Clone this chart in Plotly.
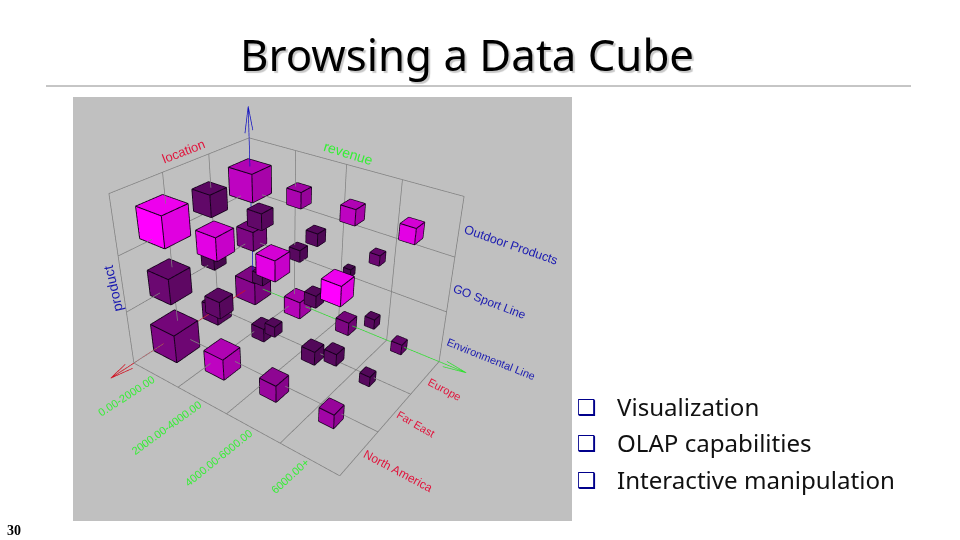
import plotly.graph_objects as go

# ---------- data ----------
revenue_labels = ["0.00-2000.00", "2000.00-4000.00", "4000.00-6000.00", "6000.00+"]
location_labels = ["Europe", "Far East", "North America"]
product_labels = ["Environmental Line", "GO Sport Line", "Outdoor Products"]
bullet_labels = ["Visualization", "OLAP capabilities", "Interactive manipulation"]

# cube edge per [location][revenue], one table per product
size_env = [[.43, .32, .24, .18], [.33, .24, .24, .17], [.50, .37, .29, .24]]
size_go = [[.35, .21, .13, None], [.27, .19, .20, .15], [.43, .27, .16, .18]]
size_out = [[.48, .27, .26, .25], [.36, .26, .19, .15], [.50, .35, .30, .28]]
# colour strength per [location][revenue], one table per product
shade_env = [[.35, .60, .30, .20], [.15, .10, .10, .10], [.30, .65, .45, .50]]
shade_go = [[.30, .10, .02, None], [.05, .10, .10, .10], [.20, .15, .10, .10]]
shade_out = [[.65, .55, .65, .85], [.15, .15, .10, .20], [1.0, .85, .85, 1.0]]

# ---------- view ----------
W, H = 960, 540
LX, LY, LZ = 0.1964, 0.1901, 0.2          # length of one grid unit
EX, EY, EZ = 3.701, 2.891, 2.717          # extent of the grid box
BACK_Y = 3
FRONT_Y = BACK_Y - EY
PPX = 319.7

sizes = [size_env, size_go, size_out]
shades = [shade_env, shade_go, shade_out]


def rgb(s, k):
    return f"rgb({int((70 + 185 * s) * k)},{int(10 * (1 - s) * k)},{int((78 + 177 * s) * k)})"


vx, vy, vz, fi, fj, fk, fc = [], [], [], [], [], [], []
ex, ey, ez = [], [], []
FACES = [((0, 0, 1), (1, 0, 1), (1, 1, 1), (0, 1, 1), .93),
         ((1, 0, 0), (1, 1, 0), (1, 1, 1), (1, 0, 1), .88),
         ((0, 0, 0), (1, 0, 0), (1, 0, 1), (0, 0, 1), 1.0),
         ((0, 0, 0), (0, 1, 0), (1, 1, 0), (1, 0, 0), .6),
         ((0, 0, 0), (0, 1, 0), (0, 1, 1), (0, 0, 1), .6),
         ((0, 1, 0), (1, 1, 0), (1, 1, 1), (0, 1, 1), .6)]
CORNERS = [(a, b, c) for a in (-1, 1) for b in (-1, 1) for c in (-1, 1)]
for zi, (sz_p, sh_p) in enumerate(zip(sizes, shades)):
    for yi, (sz_l, sh_l) in enumerate(zip(sz_p, sh_p)):
        for xi, (s, sh) in enumerate(zip(sz_l, sh_l)):
            if s is None:
                continue
            cx, cy, cz = xi, BACK_Y - yi, zi
            hx, hy, hz = s / 2 * LZ / LX, s / 2 * LZ / LY, s / 2
            b = len(vx)
            for c_ in CORNERS:
                vx.append(cx + c_[0] * hx)
                vy.append(cy + c_[1] * hy)
                vz.append(cz + c_[2] * hz)
            for a0, a1, a2, a3, k in FACES:
                idx = lambda t: b + t[0] * 4 + t[1] * 2 + t[2]
                fi += [idx(a0), idx(a0)]
                fj += [idx(a1), idx(a2)]
                fk += [idx(a2), idx(a3)]
                fc += [rgb(sh, k)] * 2
            g = 1.012
            for m in range(8):
                for n in range(m + 1, 8):
                    if sum(u != w for u, w in zip(CORNERS[m], CORNERS[n])) == 1:
                        for c_ in (CORNERS[m], CORNERS[n]):
                            ex.append(cx + c_[0] * hx * g)
                            ey.append(cy + c_[1] * hy * g)
                            ez.append(cz + c_[2] * hz * g)
                        ex.append(None)
                        ey.append(None)
                        ez.append(None)

gx, gy, gz = [], [], []


def seg(a, b):
    gx.extend([a[0], b[0], None])
    gy.extend([a[1], b[1], None])
    gz.extend([a[2], b[2], None])


nx, ny, nz = len(revenue_labels), len(location_labels), len(product_labels)
for i in range(nx + 1):
    xx = i * EX / nx
    seg((xx, FRONT_Y, 0), (xx, BACK_Y, 0))
    seg((xx, BACK_Y, 0), (xx, BACK_Y, EZ))
for j in range(ny + 1):
    yy = BACK_Y - j * EY / ny
    seg((0, yy, 0), (EX, yy, 0))
    seg((0, yy, 0), (0, yy, EZ))
for k in range(1, nz + 1):
    zz = k * EZ / nz
    seg((0, FRONT_Y, zz), (0, BACK_Y, zz))
    seg((0, BACK_Y, zz), (EX, BACK_Y, zz))

fig = go.Figure()
fig.add_trace(go.Mesh3d(x=vx, y=vy, z=vz, i=fi, j=fj, k=fk, facecolor=fc, flatshading=True,
                        lighting=dict(ambient=1, diffuse=0, specular=0, fresnel=0, roughness=1),
                        hoverinfo="skip"))
fig.add_trace(go.Scatter3d(x=ex, y=ey, z=ez, mode="lines", line=dict(color="#14001a", width=2), hoverinfo="skip"))
fig.add_trace(go.Scatter3d(x=gx, y=gy, z=gz, mode="lines", line=dict(color="#808080", width=1.5), hoverinfo="skip"))

tip_y = FRONT_Y - .45
tip_x = EX + .45
tip_z = EZ + .5
fig.add_trace(go.Scatter3d(x=[0, 0, None, 0, .08, None, 0, -.08],
                           y=[BACK_Y, tip_y, None, tip_y, tip_y + .35, None, tip_y, tip_y + .35],
                           z=[0, 0, None, 0, 0, None, 0, 0], mode="lines",
                           line=dict(color="#d01020", width=1.5), hoverinfo="skip"))
fig.add_trace(go.Scatter3d(x=[0, tip_x, None, tip_x, tip_x - .35, None, tip_x, tip_x - .35],
                           y=[BACK_Y, BACK_Y, None, BACK_Y, BACK_Y + .08, None, BACK_Y, BACK_Y - .08],
                           z=[0, 0, None, 0, 0, None, 0, 0], mode="lines",
                           line=dict(color="#30e030", width=1.5), hoverinfo="skip"))
fig.add_trace(go.Scatter3d(x=[0, 0, None, 0, 0, None, 0, 0],
                           y=[BACK_Y, BACK_Y, None, BACK_Y, BACK_Y + .1, None, BACK_Y, BACK_Y - .1],
                           z=[0, tip_z, None, tip_z, tip_z - .4, None, tip_z, tip_z - .4], mode="lines",
                           line=dict(color="#1010c0", width=1.5), hoverinfo="skip"))

hidden = dict(visible=False, showspikes=False)
wid = min(PPX, W - PPX) * 2
fig.update_layout(
    width=W, height=H, margin=dict(l=0, r=0, t=0, b=0), paper_bgcolor="white", showlegend=False,
    scene=dict(
        domain=dict(x=[(PPX - wid / 2) / W, (PPX + wid / 2) / W], y=[0, 1]),
        bgcolor="rgba(0,0,0,0)",
        xaxis=dict(range=[-1, 5], **hidden),
        yaxis=dict(range=[-1, 4], **hidden),
        zaxis=dict(range=[-1, 4], **hidden),
        aspectmode="manual",
        aspectratio=dict(x=6 * LX, y=5 * LY, z=5 * LZ),
        camera=dict(eye=dict(x=0.898, y=-1.2236, z=0.9254),
                    center=dict(x=0.045, y=0.0515, z=0.0273),
                    up=dict(x=-0.307, y=0.4022, z=0.8626),
                    projection=dict(type="perspective")),
    ),
    shapes=[
        dict(type="rect", xref="paper", yref="paper", x0=73 / W, x1=572 / W, y0=1 - 521 / H, y1=1 - 97 / H,
             fillcolor="#c0c0c0", line=dict(width=0), layer="below"),
        dict(type="line", xref="paper", yref="paper", x0=46 / W, x1=911 / W, y0=1 - 86 / H, y1=1 - 86 / H,
             line=dict(color="#8c8c8c", width=1)),
    ],
)


def ann(text, x, y, size, color, angle=0, family="Liberation Sans", anchor="center", **kw):
    fig.add_annotation(xref="paper", yref="paper", x=x / W, y=1 - y / H, text=text, showarrow=False,
                       textangle=angle, font=dict(size=size, color=color, family=family, **kw),
                       xanchor=anchor, yanchor="middle")


RED, GRN, BLU = "#e0143c", "#36ee36", "#1a1ab0"
ann("location", 183, 151, 13, RED, -21)
ann("revenue", 348, 153, 14, GRN, 17)
ann("product", 113, 289, 14, BLU, -103)
ann(product_labels[2], 511, 245, 12.5, BLU, 19)
ann(product_labels[1], 490, 302, 12, BLU, 21)
ann(product_labels[0], 491, 359, 11, BLU, 22)
ann(location_labels[0], 444, 389, 11, RED, 28)
ann(location_labels[1], 416, 424, 11, RED, 30)
ann(location_labels[2], 398, 471, 12, RED, 28)
for t_, x_, y_, a_ in zip(revenue_labels, [126, 166, 218, 290], [396, 428, 458, 476], [-33, -36, -39, -42]):
    ann(t_, x_, y_, 11, GRN, a_)
ann("Browsing a Data Cube", 467, 54, 43.8, "#000000", family="Noto Sans", shadow="2px 2px 1px #c8c8c8")
for t_, y_ in zip(bullet_labels, [406.5, 442.5, 479.5]):
    ann(t_, 614.5, y_, 24.1, "#111111", family="Noto Sans", anchor="left")
    ann("\u2751", 587, y_ + 1, 22, "#00008b", family="DejaVu Sans")
ann("30", 14, 530, 14, "#000000", family="Liberation Serif", weight="bold")

fig.write_html("out.html", config=dict(displayModeBar=False), post_script="document.body.style.margin='0';")
